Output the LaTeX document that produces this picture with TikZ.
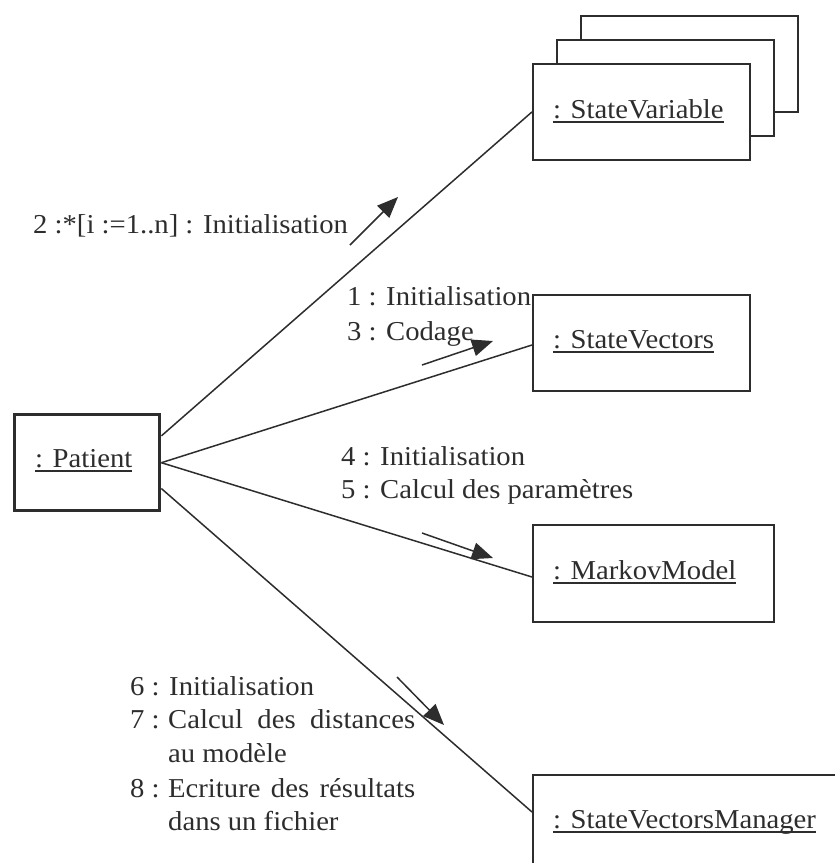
\documentclass[tikz,border=0pt]{standalone}
\usepackage{fontspec}
\setmainfont[FakeStretch=1.05]{Liberation Serif}
\usetikzlibrary{arrows.meta,calc}
\definecolor{ink}{RGB}{45,45,45}
% underlined object name, rule at a fixed depth below the baseline
\newcommand{\objname}[1]{\setbox0\hbox{#1}\rlap{\color{ink}\rule[-4.5pt]{\wd0}{1.5pt}}\box0}
\begin{document}
\begin{tikzpicture}[x=1pt,y=-1pt,
  every node/.style={font=\fontsize{27.3}{33}\selectfont, text=ink},
  objbox/.style={draw=ink, line width=1.8pt, fill=white, inner sep=0pt, anchor=north west},
  objlabel/.style={anchor=base west, inner sep=0pt},
  msg/.style={anchor=base west, inner sep=0pt},
  link/.style={draw=ink, line width=1.5pt},
  flow/.style={draw=ink, line width=1.5pt, -{Triangle[length=21pt,width=17pt]}}]
\useasboundingbox (0,0) rectangle (835,863);
\clip (0,0) rectangle (835,863);

% objects
\node[objbox, line width=3.4pt, minimum width=145pt, minimum height=96pt] (pat) at (13,413) {};
\node[objlabel] (patl) at ($(pat.north west)+(22,54)$) {\objname{: Patient}};

\node[objbox, minimum width=217pt, minimum height=96pt] (svback) at (580,15) {};
\node[objbox, minimum width=217pt, minimum height=96pt] (svmid) at (556,39) {};
\node[objbox, minimum width=217pt, minimum height=96pt] (sv) at (532,63) {};
\node[objlabel] (svl) at ($(sv.north west)+(21,55)$) {\objname{: StateVariable}};

\node[objbox, minimum width=217pt, minimum height=96pt] (sve) at (532,294) {};
\node[objlabel] (svel) at ($(sve.north west)+(21,54)$) {\objname{: StateVectors}};

\node[objbox, minimum width=241pt, minimum height=97pt] (mm) at (532,524) {};
\node[objlabel] (mml) at ($(mm.north west)+(21,55)$) {\objname{: MarkovModel}};

\node[objbox, minimum width=400pt, minimum height=200pt] (mgr) at (532,774) {};
\node[objlabel] (mgrl) at ($(mgr.north west)+(21,54)$) {\objname{: StateVectorsManager}};

% links
\draw[link] ($(pat.north east)!0.23!(pat.south east)$) -- (sv.west);
\draw[link] (pat.east) -- ($(sve.north west)+(0,51)$);
\draw[link] (pat.east) -- ($(mm.north west)+(0,53)$);
\draw[link] ($(pat.north east)!0.76!(pat.south east)$) -- ($(mgr.north west)+(0,38)$);

% message arrows
\coordinate (a2s) at (350,245);  \coordinate (a2e) at (398,197);
\coordinate (a3s) at (422,365);  \coordinate (a3e) at (493,341);
\coordinate (a5s) at (422,533);  \coordinate (a5e) at (493,558);
\coordinate (a8s) at (397,677);  \coordinate (a8e) at (444,725);
\draw[flow] (a2s) -- (a2e);
\draw[flow] (a3s) -- (a3e);
\draw[flow] (a5s) -- (a5e);
\draw[flow] (a8s) -- (a8e);

% messages
\node[msg] (m2) at (33,233) {2 :*[i :=1..n] : Initialisation};
\node[msg] (m1) at (347,305) {1 : Initialisation};
\node[msg] (m3) at (347,340) {3 : Codage};
\node[msg] (m4) at (341,465) {4 : Initialisation};
\node[msg] (m5) at (341,498) {5 : Calcul des paramètres};
\node[msg] (m6) at (130,695) {6 : Initialisation};
\node[msg] (m7n) at (130,728) {7 :};
\node[msg] (m7) at (168,728) {\makebox[247pt][s]{Calcul des distances}};
\node[msg] (m7b) at (168,762) {au modèle};
\node[msg] (m8n) at (130,797) {8 :};
\node[msg] (m8) at (168,797) {\makebox[247pt][s]{Ecriture des résultats}};
\node[msg] (m8b) at (168,830) {dans un fichier};
\end{tikzpicture}
\end{document}
